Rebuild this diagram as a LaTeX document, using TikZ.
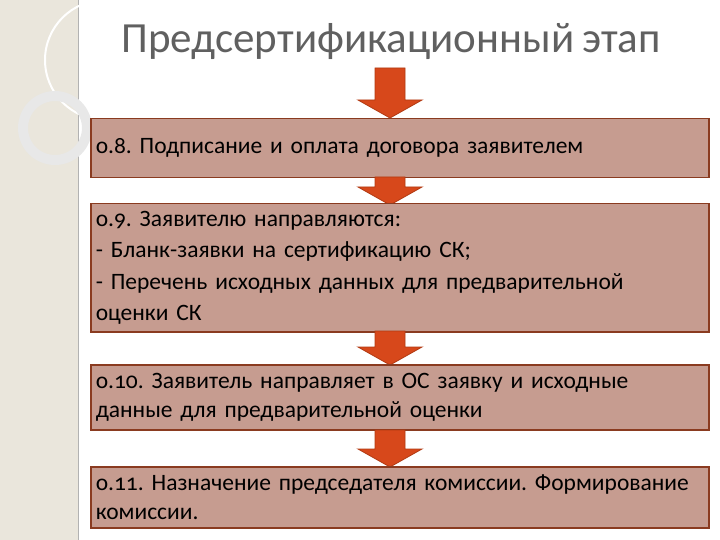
\documentclass[tikz,border=0pt]{standalone}
\usepackage{fontspec}
\setmainfont{Carlito}[Numbers=OldStyle,WordSpace=0.8]
\frenchspacing
\definecolor{boxfill}{HTML}{C69C90}
\definecolor{boxline}{HTML}{8A3B20}
\definecolor{arrfill}{HTML}{D7481B}
\definecolor{arrline}{HTML}{B23A12}
\definecolor{strip}{HTML}{EAE6DC}
\definecolor{titlec}{HTML}{606060}
\begin{document}
\begin{tikzpicture}[x=1pt,y=-1pt,
  stepbox/.style={draw=boxline,line width=1.5pt,fill=boxfill,anchor=north west,minimum width=618pt,inner xsep=5pt,inner ysep=0pt,align=left,text width=608pt,font=\fontsize{23.5}{31.5}\selectfont\frenchspacing},
  arr/.style={fill=arrfill,draw=arrline,line width=0.8pt}]
\useasboundingbox (0,0) rectangle (720,540);
\fill[white] (0,0) rectangle (720,540);
\fill[strip] (0,0) rectangle (78,540);
\draw[gray!60,line width=1pt] (78,0) -- (78,540);
\draw[white,line width=2pt] (105,60) circle (60);
\draw[gray!18,line width=10pt] (55,128) circle (32);
\node[text=titlec,font=\fontsize{43}{48}\selectfont] (title) at (391,42) {Предсертификационный этап};
\newcommand{\darr}[3]{\draw[arr] (#1-15,#2) -- (#1+15,#2) -- (#1+15,#3-18) -- (#1+32,#3-18) -- (#1,#3) -- (#1-32,#3-18) -- (#1-15,#3-18) -- cycle;}
\darr{390}{68}{118}
\node[stepbox,minimum height=59pt] (b1) at (90,118) {о.8. Подписание и оплата договора заявителем};
\darr{390}{177}{205}
\node[stepbox,minimum height=128pt] (b2) at (90,203) {о.9. Заявителю направляются:\\- Бланк-заявки на сертификацию СК;\\- Перечень исходных данных для предварительной\\оценки СК};
\darr{390}{331}{365}
\node[stepbox,minimum height=65pt,font=\fontsize{23.5}{29.5}\selectfont\frenchspacing] (b3) at (90,364) {о.10. Заявитель направляет в ОС заявку и исходные\\данные для предварительной оценки};
\darr{390}{430}{467}
\node[stepbox,minimum height=61pt,font=\fontsize{23.5}{29.5}\selectfont\frenchspacing] (b4) at (90,466) {о.11. Назначение председателя комиссии. Формирование\\комиссии.};
\end{tikzpicture}
\end{document}
